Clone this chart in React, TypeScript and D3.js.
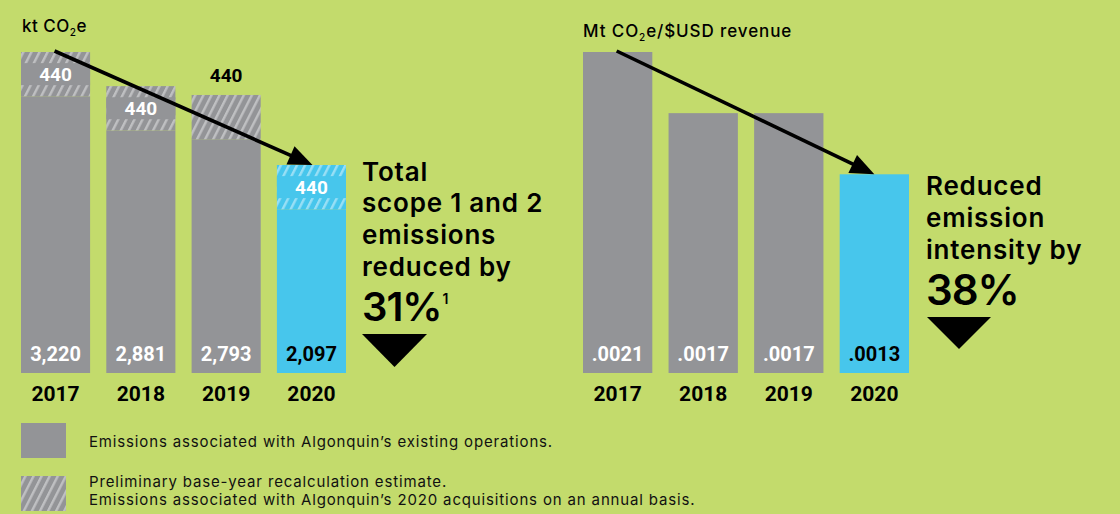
import React from "react";
import * as d3 from "d3";

// Emissions by year
const years = ["2017", "2018", "2019", "2020"];
const existingKt = [3220, 2881, 2793, 2097];
const acquisitionKt = [440, 440, 440, 440];
const existingLabels = ["3,220", "2,881", "2,793", "2,097"];
const acquisitionLabels = ["440", "440", "440", "440"];
const acquisitionLabelOutside = [false, false, true, false];

// Emission intensity by year
const intensity = [0.0021, 0.0017, 0.0017, 0.0013];
const intensityLabels = [".0021", ".0017", ".0017", ".0013"];

const highlightYear = "2020";

const W = 1120;
const H = 514;
const BG = "#c3db6c";
const GRAY = "#939497";
const BLUE = "#47c6ec";
const HEAD = "Inter, 'Open Sans', sans-serif";
const NUM = "Roboto, sans-serif";

const baseY = 373;
const topY = 52;

const xLeft = d3.scaleBand<string>().domain(years).range([21, 346]).paddingInner(0.19).paddingOuter(0);
const xRight = d3.scaleBand<string>().domain(years).range([583, 909]).paddingInner(0.19).paddingOuter(0);
const yLeft = d3.scaleLinear().domain([470, 3660]).range([baseY, topY]);
const yRight = d3.scaleLinear().domain([0, 0.0021]).range([baseY, topY]);

function Arrow({ x1, y1, x2, y2 }: { x1: number; y1: number; x2: number; y2: number }) {
  const ang = Math.atan2(y2 - y1, x2 - x1);
  const headLen = 24;
  const headHalf = 10;
  const bx = x2 - headLen * Math.cos(ang);
  const by = y2 - headLen * Math.sin(ang);
  const px = -Math.sin(ang) * headHalf;
  const py = Math.cos(ang) * headHalf;
  const line = d3.line()([[x1, y1], [bx + 2 * Math.cos(ang), by + 2 * Math.sin(ang)]]) || "";
  return (
    <g>
      <path d={line} stroke="#000" strokeWidth={3.6} fill="none" />
      <path d={`M${x2},${y2}L${bx + px},${by + py}L${bx - px},${by - py}Z`} fill="#000" />
    </g>
  );
}

function Headline({ x, lines, big, sup, bigY, lineYs, size, bigSize, tri }: any) {
  return (
    <g fontFamily={HEAD} fontWeight={600} fill="#000">
      {lines.map((t: string, i: number) => (
        <text key={t} x={x} y={lineYs[i]} fontSize={size} letterSpacing={0.8}>{t}</text>
      ))}
      <text x={x} y={bigY} fontSize={bigSize} letterSpacing={-1}>
        {big}
        {sup ? <tspan fontSize={14} dy={-17} dx={1}>{sup}</tspan> : null}
      </text>
      <path d={`M${tri[0]},${tri[1]}L${tri[2]},${tri[1]}L${(tri[0] + tri[2]) / 2},${tri[3]}Z`} fill="#000" />
    </g>
  );
}

export default function App() {
  const bw = xLeft.bandwidth();
  const bwR = xRight.bandwidth();
  const i0 = 0;
  const iL = years.length - 1;
  return (
    <svg width={W} height={H} style={{ position: "absolute", left: 0, top: 0 }}>
      <defs>
        <pattern id="hatchGray" patternUnits="userSpaceOnUse" width={7.2} height={12} patternTransform="rotate(27)">
          <rect width={7.2} height={12} fill={GRAY} />
          <rect width={2.4} height={12} fill="#d2d3d5" opacity={0.7} />
        </pattern>
        <pattern id="hatchBlue" patternUnits="userSpaceOnUse" width={7.2} height={12} patternTransform="rotate(27)">
          <rect width={7.2} height={12} fill={BLUE} />
          <rect width={2.4} height={12} fill="#bdeafa" opacity={0.7} />
        </pattern>
      </defs>
      <rect width={W} height={H} fill={BG} />

      {/* Left panel: total scope 1 and 2 emissions */}
      <text x={22} y={32} fontFamily={HEAD} fontWeight={500} fontSize={17} letterSpacing={0.5}>
        kt CO<tspan fontSize={10} dy={4}>2</tspan><tspan dy={-4}>e</tspan>
      </text>
      {years.map((yr, i) => {
        const x = xLeft(yr)!;
        const hl = yr === highlightYear;
        const fill = hl ? BLUE : GRAY;
        const ySolid = yLeft(existingKt[i]);
        const yTop = yLeft(existingKt[i] + acquisitionKt[i]);
        const cx = x + bw / 2;
        const midHatch = (ySolid + yTop) / 2;
        const outside = acquisitionLabelOutside[i];
        return (
          <g key={yr}>
            <rect x={x} y={ySolid} width={bw} height={baseY - ySolid} fill={fill} />
            <rect x={x} y={yTop} width={bw} height={ySolid - yTop} fill={hl ? "url(#hatchBlue)" : "url(#hatchGray)"} />
            {!outside && <rect x={x} y={midHatch - 11} width={bw} height={22} fill={fill} />}
            <text x={cx} y={outside ? yTop - 13 : midHatch + 7} textAnchor="middle" fontFamily={NUM} fontWeight={700} fontSize={19} fill={outside ? "#000" : "#fff"}>
              {acquisitionLabels[i]}
            </text>
            <text x={cx} y={361} textAnchor="middle" fontFamily={NUM} fontWeight={700} fontSize={20} fill={hl ? "#000" : "#fff"}>
              {existingLabels[i]}
            </text>
            <text x={cx} y={401} textAnchor="middle" fontFamily={NUM} fontWeight={700} fontSize={21} fill="#000">
              {yr}
            </text>
          </g>
        );
      })}
      <Arrow
        x1={xLeft(years[i0])! + bw / 2 - 1}
        y1={yLeft(existingKt[i0] + acquisitionKt[i0]) - 1}
        x2={xLeft(years[iL])! + bw / 2 + 1}
        y2={yLeft(existingKt[iL] + acquisitionKt[iL])}
      />
      <Headline
        x={362}
        lines={["Total", "scope 1 and 2", "emissions", "reduced by"]}
        lineYs={[181, 212, 244, 276]}
        size={26}
        big="31%"
        sup="1"
        bigY={321}
        bigSize={40}
        tri={[362, 334, 427, 367]}
      />

      {/* Right panel: emission intensity */}
      <text x={583} y={37} fontFamily={HEAD} fontWeight={500} fontSize={17} letterSpacing={0.9}>
        Mt CO<tspan fontSize={10} dy={4}>2</tspan><tspan dy={-4}>e/$USD revenue</tspan>
      </text>
      {years.map((yr, i) => {
        const x = xRight(yr)!;
        const hl = yr === highlightYear;
        const cx = x + bwR / 2;
        const yv = yRight(intensity[i]);
        return (
          <g key={yr}>
            <rect x={x} y={yv} width={bwR} height={baseY - yv} fill={hl ? BLUE : GRAY} />
            <text x={cx} y={361} textAnchor="middle" fontFamily={NUM} fontWeight={700} fontSize={20} fill={hl ? "#000" : "#fff"}>
              {intensityLabels[i]}
            </text>
            <text x={cx} y={401} textAnchor="middle" fontFamily={NUM} fontWeight={700} fontSize={21} fill="#000">
              {yr}
            </text>
          </g>
        );
      })}
      <Arrow
        x1={xRight(years[i0])! + bwR / 2 - 1}
        y1={yRight(intensity[i0]) - 1}
        x2={xRight(years[iL])! + bwR / 2}
        y2={yRight(intensity[iL])}
      />
      <Headline
        x={926}
        lines={["Reduced", "emission", "intensity by"]}
        lineYs={[195, 227, 259]}
        size={26}
        big="38%"
        bigY={305}
        bigSize={42}
        tri={[927, 317, 991, 349]}
      />

      {/* Legend */}
      <rect x={21} y={423} width={45} height={35} fill={GRAY} />
      <text x={89} y={447} fontFamily={HEAD} fontSize={15} letterSpacing={0.85} fill="#111">
        Emissions associated with Algonquin’s existing operations.
      </text>
      <rect x={21} y={476} width={45} height={35} fill="url(#hatchGray)" />
      <text x={89} y={487} fontFamily={HEAD} fontSize={15} letterSpacing={0.85} fill="#111">
        Preliminary base-year recalculation estimate.
      </text>
      <text x={89} y={505} fontFamily={HEAD} fontSize={15} letterSpacing={0.85} fill="#111">
        Emissions associated with Algonquin’s 2020 acquisitions on an annual basis.
      </text>
    </svg>
  );
}
